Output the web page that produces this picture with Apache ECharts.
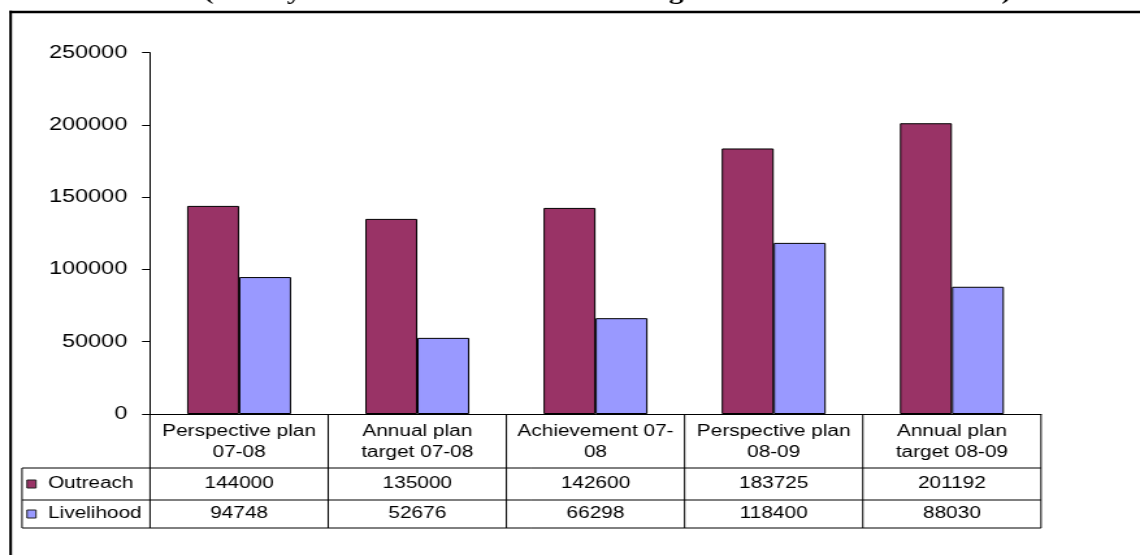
<!DOCTYPE html>
<html>
<head>
<meta charset="utf-8">
<script src="https://cdn.jsdelivr.net/npm/echarts@6/dist/echarts.min.js"></script>
<style>
  html, body { margin: 0; padding: 0; background: #fff; overflow: hidden; }
  #wrap { width: 1140px; height: 555px; overflow: hidden; position: relative; }
  /* the chart is laid out narrow and stretched horizontally */
  #chart { position: absolute; left: 0; top: 0; width: 877px; height: 555px; transform: scaleX(1.29989); transform-origin: 0 0; }
</style>
</head>
<body>
<div id="wrap"><div id="chart"></div></div>
<script>
// ---- data ----
const titleText = '(Family outreach and outreach through livelihood interventions)';
const categories = [
  'Perspective plan\n07-08',
  'Annual plan\ntarget 07-08',
  'Achievement 07-\n08',
  'Perspective plan\n08-09',
  'Annual plan\ntarget 08-09'
];
const seriesNames = ['Outreach', 'Livelihood'];
const outreach = [144000, 135000, 142600, 183725, 201192];
const livelihood = [94748, 52676, 66298, 118400, 88030];
const yTickLabels = ['0', '50000', '100000', '150000', '200000', '250000'];
const yMin = 0;
const yMax = 250000;
const yStep = 50000;

// ---- styling ----
const colors = ['#993366', '#9999FF'];
const FONT = '"Liberation Sans", Arial, sans-serif';
const SX = 1140 / 877; // horizontal stretch applied by CSS

const chart = echarts.init(document.getElementById('chart'), null, { renderer: 'canvas' });

const option = {
  animation: false,
  backgroundColor: '#fff',
  grid: { left: 150 / SX, right: 877 - 1041 / SX, top: 52.7, bottom: 555 - 414, containLabel: false },
  xAxis: {
    type: 'category',
    data: categories,
    axisLine: { show: true, lineStyle: { color: '#000', width: 1 } },
    axisTick: { show: false },
    axisLabel: {
      interval: 0, color: '#000', fontFamily: FONT, fontSize: 16, lineHeight: 21, margin: 7
    },
    splitLine: { show: false }
  },
  yAxis: {
    type: 'value',
    min: yMin, max: yMax, interval: yStep,
    axisLine: { show: true, lineStyle: { color: '#000', width: 1 } },
    axisTick: { show: true, inside: false, length: 8 / SX, lineStyle: { color: '#000' } },
    axisLabel: {
      color: '#000', fontFamily: FONT, fontSize: 18, margin: 17.5,
      formatter: (v) => yTickLabels[Math.round((v - yMin) / yStep)]
    },
    splitLine: { show: false }
  },
  series: [
    {
      name: seriesNames[0], type: 'bar', data: outreach,
      barWidth: 52 / SX, barGap: '0%',
      itemStyle: { color: colors[0], borderColor: '#000', borderWidth: 1 }
    },
    {
      name: seriesNames[1], type: 'bar', data: livelihood,
      barWidth: 52 / SX, barGap: '0%',
      itemStyle: { color: colors[1], borderColor: '#000', borderWidth: 1 }
    }
  ]
};
chart.setOption(option);

// ---- data table under the plot, positioned from the axes ----
const c0 = chart.convertToPixel({ xAxisIndex: 0 }, 0);
const c1 = chart.convertToPixel({ xAxisIndex: 0 }, 1);
const band = c1 - c0;
const yBase = chart.convertToPixel({ yAxisIndex: 0 }, 0);
const left0 = c0 - band / 2;
const right0 = left0 + band * categories.length;
const legendLeft = 22 / SX;
const rowTop1 = yBase + 54;   // bottom of category row
const rowTop2 = rowTop1 + 32; // bottom of first series row
const rowBottom = rowTop2 + 28;
const rowTops = [rowTop1, rowTop2];
const rowBottoms = [rowTop2, rowBottom];
const rows = [outreach, livelihood];

const line = (x1, y1, x2, y2, w) => ({
  type: 'line', silent: true,
  shape: { x1, y1, x2, y2 },
  style: { stroke: '#000', lineWidth: w || 1 }
});
const bar = (x, y, width, height) => ({
  type: 'rect', silent: true,
  shape: { x, y, width, height },
  style: { fill: '#000', stroke: null }
});

const graphics = [];
// frame: top and left edges of the figure border, as solid strips
const frameX = 10.6 / SX;
const frameY = 12;
graphics.push(bar(frameX - 1.05, frameY - 1.2, 877 - frameX + 1.05, 2.4));
graphics.push(bar(frameX - 1.05, frameY - 1.2, 2.1, 560));
// heading, mostly above the top edge
graphics.push({
  type: 'text', silent: true,
  style: {
    text: titleText, x: 607.5 / SX, y: -7,
    font: 'bold 22.6px "Liberation Serif", "Times New Roman", serif',
    fill: '#000', align: 'center', verticalAlign: 'middle'
  }
});
// horizontal table rules
[rowTop1, rowTop2, rowBottom].forEach(y => graphics.push(line(legendLeft, y, right0, y)));
// vertical table rules
for (let i = 0; i <= categories.length; i++) {
  const x = left0 + band * i;
  graphics.push(line(x, yBase, x, rowBottom));
}
graphics.push(line(legendLeft, rowTop1, legendLeft, rowBottom));

// row headers with colour keys, and values
rows.forEach((vals, r) => {
  const yc = (rowTops[r] + rowBottoms[r]) / 2;
  graphics.push({
    type: 'rect', silent: true,
    shape: { x: 27 / SX, y: yc - 4, width: 9 / SX, height: 8 },
    style: { fill: colors[r], stroke: '#222', lineWidth: 1 }
  });
  graphics.push({
    type: 'text', silent: true,
    style: {
      text: seriesNames[r], x: 48 / SX, y: yc,
      font: '16px ' + FONT, fill: '#000', align: 'left', verticalAlign: 'middle'
    }
  });
  vals.forEach((v, i) => {
    graphics.push({
      type: 'text', silent: true,
      style: {
        text: String(v), x: chart.convertToPixel({ xAxisIndex: 0 }, i), y: yc,
        font: '16px ' + FONT, fill: '#000', align: 'center', verticalAlign: 'middle'
      }
    });
  });
});

chart.setOption({ graphic: graphics });
</script>
</body>
</html>
